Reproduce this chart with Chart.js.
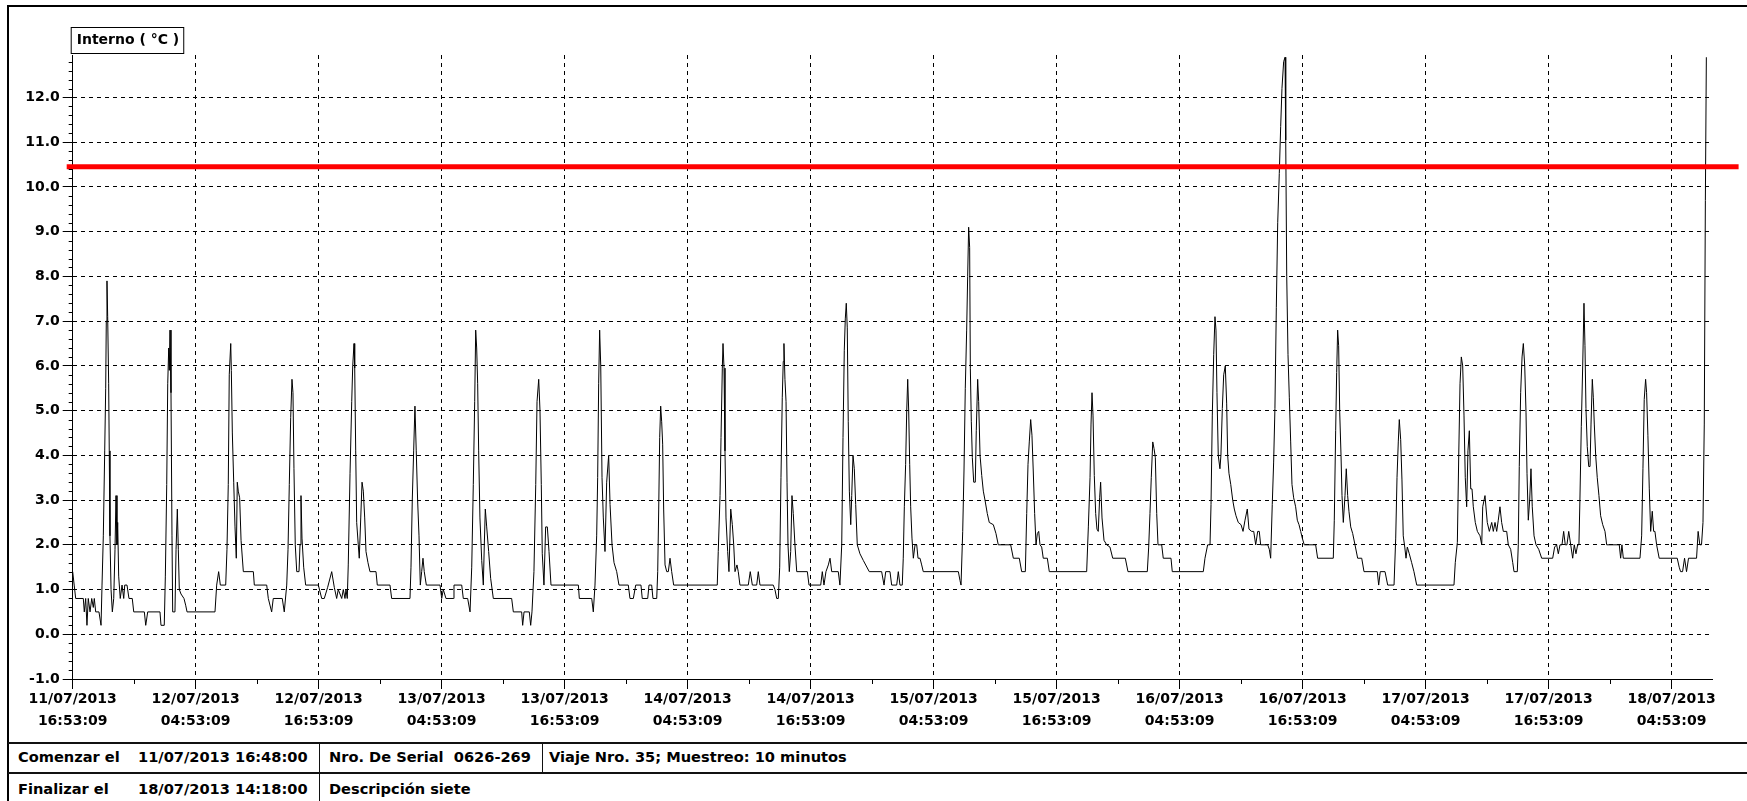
<!DOCTYPE html>
<html>
<head>
<meta charset="utf-8">
<script src="https://cdn.jsdelivr.net/npm/chart.js@4.4.0/dist/chart.umd.min.js"></script>
<style>
  body { margin: 0; width: 1747px; height: 801px; overflow: hidden; background: #fff; position: relative;
         font-family: 'DejaVu Sans', sans-serif; font-weight: bold; color: #000; }
  #frame { position: absolute; left: 7px; top: 5px; width: 1800px; height: 900px;
           border-left: 2px solid #000; border-top: 2px solid #000; }
  #tempChart { position: absolute; left: 0; top: 0; }
  .hline { position: absolute; left: 8px; width: 1739px; height: 2px; background: #111; }
  .vline { position: absolute; width: 1px; background: #111; }
  .cell { position: absolute; height: 20px; line-height: 20px; font-size: 14.6px; white-space: pre; }
</style>
</head>
<body>
<div id="frame"></div>
<canvas id="tempChart" width="1747" height="742"></canvas>

<div class="hline" style="top:742px"></div>
<div class="hline" style="top:772px"></div>
<div class="vline" style="left:319px; top:743px; height:60px"></div>
<div class="vline" style="left:542px; top:743px; height:30px"></div>

<div class="cell" style="left:18px; top:747px">Comenzar el</div>
<div class="cell" style="left:138px; top:747px">11/07/2013 16:48:00</div>
<div class="cell" style="left:329px; top:747px">Nro. De Serial  0626-269</div>
<div class="cell" style="left:549px; top:747px">Viaje Nro. 35; Muestreo: 10 minutos</div>
<div class="cell" style="left:18px; top:779px">Finalizar el</div>
<div class="cell" style="left:138px; top:779px">18/07/2013 14:18:00</div>
<div class="cell" style="left:329px; top:779px">Descripción siete</div>

<script>
// hours since 11/07/2013 16:48, temperature in °C
const seriesLabel = 'Interno ( °C )';
const spanHours = 165.5;
const threshold = 10.45;

const tickDates = ['11/07/2013', '12/07/2013', '12/07/2013', '13/07/2013', '13/07/2013', '14/07/2013', '14/07/2013',
                   '15/07/2013', '15/07/2013', '16/07/2013', '16/07/2013', '17/07/2013', '17/07/2013', '18/07/2013'];
const tickTimes = ['16:53:09', '04:53:09', '16:53:09', '04:53:09', '16:53:09', '04:53:09', '16:53:09',
                   '04:53:09', '16:53:09', '04:53:09', '16:53:09', '04:53:09', '16:53:09', '04:53:09'];
const tickStep = spanHours * 0.075;

const interno = [
  [0,1.4],[0.15,1.1],[0.3,0.8],[1.07,0.8],[1.17,0.5],[1.31,0.8],[1.44,0.2],[1.57,0.8],[1.75,0.5],[1.92,0.8],
  [2.08,0.6],[2.18,0.8],[2.32,0.5],[2.65,0.5],[2.86,0.2],[2.96,1.1],[3.09,2.2],[3.23,4.1],[3.33,5.5],[3.39,7.0],
  [3.46,7.9],[3.53,7.1],[3.63,5.6],[3.69,4.1],[3.76,2.2],[3.87,1.0],[4.00,0.5],[4.14,0.8],[4.27,1.9],[4.37,3.1],
  [4.47,2.0],[4.54,2.5],[4.64,1.3],[4.80,0.8],[4.98,1.1],[5.15,0.8],[5.25,1.1],[5.48,1.1],[5.68,0.8],[6.01,0.8],
  [6.16,0.5],[7.23,0.5],[7.37,0.2],[7.57,0.5],[8.81,0.5],[8.91,0.2],[9.24,0.2],[9.35,1.3],[9.49,3.35],[9.59,5.6],
  [9.69,6.4],[9.75,5.9],[9.82,6.8],[9.92,5.4],[10.02,2.2],[10.09,0.5],[10.32,0.5],[10.43,1.9],[10.56,2.8],[10.66,1.9],
  [10.76,1.0],[10.93,0.9],[11.23,0.8],[11.40,0.65],[11.54,0.5],[14.36,0.5],[14.53,1.1],[14.73,1.4],[14.90,1.1],[15.44,1.1],
  [15.57,1.9],[15.70,3.35],[15.80,5.8],[15.95,6.5],[16.01,5.9],[16.11,4.5],[16.25,3.4],[16.38,2.4],[16.51,1.7],[16.61,3.4],
  [16.71,3.2],[16.85,3.05],[16.99,2.1],[17.22,1.4],[18.23,1.4],[18.33,1.1],[19.58,1.1],[19.74,0.8],[20.08,0.5],[20.24,0.8],
  [21.15,0.8],[21.35,0.5],[21.60,1.1],[21.73,1.9],[21.86,3.35],[22.00,4.85],[22.13,5.7],[22.23,5.4],[22.33,3.7],[22.46,2.0],
  [22.61,1.4],[22.84,1.4],[22.94,2.0],[23.04,3.1],[23.14,2.15],[23.31,1.5],[23.51,1.1],[24.79,1.1],[25.13,0.8],[25.39,0.8],
  [25.73,1.05],[26.14,1.4],[26.40,1.05],[26.64,0.8],[26.80,1.0],[27.15,0.8],[27.31,1.0],[27.48,0.8],[27.58,1.0],[27.71,0.8],
  [27.81,1.55],[27.99,3.6],[28.16,5.2],[28.26,6.0],[28.39,6.5],[28.46,5.95],[28.56,4.1],[28.66,2.5],[28.82,2.0],[28.92,1.7],
  [29.07,2.6],[29.20,3.4],[29.33,3.2],[29.47,2.6],[29.60,1.85],[29.80,1.6],[30.00,1.4],[30.61,1.4],[30.74,1.1],[32.02,1.1],
  [32.19,0.8],[34.04,0.8],[34.14,1.5],[34.27,3.0],[34.41,4.1],[34.54,5.1],[34.67,4.1],[34.81,3.0],[34.95,2.2],[35.08,1.1],
  [35.22,1.4],[35.35,1.7],[35.48,1.4],[35.69,1.1],[37.07,1.1],[37.24,0.8],[37.40,1.0],[37.67,0.8],[38.41,0.8],[38.48,1.1],
  [39.26,1.1],[39.42,0.8],[39.86,0.8],[40.10,0.5],[40.27,1.5],[40.43,3.35],[40.57,5.2],[40.67,6.8],[40.77,6.4],[40.87,5.6],
  [40.97,4.1],[41.10,2.6],[41.28,1.65],[41.44,1.1],[41.54,2.0],[41.64,2.8],[41.78,2.4],[41.98,1.85],[42.18,1.25],[42.45,0.8],
  [44.30,0.8],[44.47,0.5],[45.31,0.5],[45.41,0.2],[45.55,0.5],[46.08,0.5],[46.22,0.2],[46.35,0.5],[46.55,1.4],[46.73,3.35],
  [46.86,5.2],[47.03,5.7],[47.16,5.0],[47.29,3.35],[47.39,1.8],[47.56,1.1],[47.73,2.4],[47.90,2.4],[48.07,1.85],[48.27,1.1],
  [51.03,1.1],[51.13,0.8],[52.38,0.8],[52.54,0.5],[52.71,1.1],[52.88,2.2],[52.98,3.5],[53.08,5.6],[53.18,6.8],[53.29,6.0],
  [53.42,3.5],[53.55,2.6],[53.72,1.85],[53.89,3.4],[54.09,4.0],[54.23,2.9],[54.43,2.0],[54.63,1.6],[54.90,1.4],[55.13,1.1],
  [56.07,1.1],[56.24,0.8],[56.58,0.8],[56.82,1.1],[57.35,1.1],[57.48,0.8],[58.03,0.8],[58.16,1.1],[58.43,1.1],[58.56,0.8],
  [58.94,0.8],[59.04,1.4],[59.14,2.8],[59.24,4.4],[59.34,5.1],[59.44,4.75],[59.54,4.25],[59.64,2.8],[59.78,1.55],[59.95,1.4],
  [60.11,1.4],[60.28,1.7],[60.45,1.4],[60.65,1.1],[65.05,1.1],[65.15,1.85],[65.33,3.1],[65.43,4.4],[65.56,5.95],[65.63,6.5],
  [65.73,5.95],[65.83,4.1],[65.93,2.6],[66.10,1.85],[66.23,1.4],[66.41,2.8],[66.57,2.45],[66.71,2.0],[66.84,1.4],[67.04,1.55],
  [67.17,1.4],[67.34,1.1],[68.18,1.1],[68.38,1.4],[68.59,1.1],[69.03,1.1],[69.19,1.4],[69.36,1.1],[70.70,1.1],[70.87,1.0],
  [71.05,0.8],[71.21,0.8],[71.35,1.5],[71.48,3.5],[71.61,5.3],[71.71,6.1],[71.78,6.5],[71.88,5.7],[71.99,5.2],[72.09,3.4],
  [72.19,2.0],[72.32,1.4],[72.46,1.85],[72.59,3.1],[72.72,2.7],[72.89,2.0],[73.07,1.4],[74.14,1.4],[74.31,1.1],[75.49,1.1],
  [75.65,1.4],[75.82,1.1],[76.02,1.4],[76.26,1.55],[76.43,1.7],[76.60,1.4],[77.26,1.4],[77.43,1.1],[77.61,2.0],[77.74,4.4],
  [77.87,6.35],[77.97,7.05],[78.07,7.4],[78.17,6.85],[78.27,4.75],[78.38,3.2],[78.52,2.45],[78.62,3.1],[78.75,4.0],[78.88,3.7],
  [79.02,2.9],[79.18,2.0],[79.45,1.8],[79.79,1.65],[80.39,1.4],[81.64,1.4],[81.88,1.1],[82.05,1.4],[82.48,1.4],[82.65,1.1],
  [83.16,1.1],[83.32,1.4],[83.49,1.1],[83.72,1.1],[83.82,1.7],[83.93,2.85],[84.06,3.8],[84.17,5.0],[84.27,5.7],[84.37,5.0],
  [84.47,3.8],[84.57,2.85],[84.70,2.15],[84.84,1.7],[85.01,2.0],[85.18,2.0],[85.31,1.7],[85.51,1.7],[85.68,1.55],[85.84,1.4],
  [89.38,1.4],[89.55,1.2],[89.65,1.1],[89.82,2.3],[89.95,3.65],[90.08,5.5],[90.22,6.8],[90.32,8.0],[90.42,9.1],[90.52,8.65],
  [90.59,5.95],[90.69,4.75],[90.79,3.95],[90.93,3.4],[91.09,3.4],[91.19,4.55],[91.33,5.7],[91.43,5.2],[91.57,4.0],[91.74,3.55],
  [91.90,3.2],[92.07,3.0],[92.30,2.7],[92.50,2.5],[92.91,2.45],[93.18,2.25],[93.41,2.0],[94.66,2.0],[94.93,1.7],[95.53,1.7],
  [95.77,1.4],[96.14,1.4],[96.28,2.7],[96.41,3.8],[96.54,4.3],[96.68,4.8],[96.81,4.45],[96.94,3.65],[97.08,2.7],[97.22,2.0],
  [97.35,2.25],[97.49,2.3],[97.62,2.0],[97.79,1.95],[97.95,1.7],[98.36,1.7],[98.56,1.4],[102.33,1.4],[102.50,2.4],[102.67,3.5],
  [102.77,4.7],[102.87,5.4],[102.97,4.9],[103.10,3.55],[103.24,2.7],[103.37,2.35],[103.50,2.3],[103.64,3.05],[103.74,3.4],[103.88,2.6],
  [104.08,2.1],[104.35,2.0],[104.68,1.95],[104.96,1.7],[106.23,1.7],[106.50,1.4],[108.45,1.4],[108.59,1.95],[108.72,2.7],[108.85,3.5],
  [109.00,4.3],[109.13,4.15],[109.26,3.95],[109.40,2.7],[109.53,2.0],[109.90,2.0],[110.06,1.7],[110.84,1.7],[110.97,1.4],[114.10,1.4],
  [114.27,1.7],[114.54,2.0],[114.78,2.0],[114.88,2.9],[115.01,4.9],[115.15,6.25],[115.28,7.1],[115.38,6.8],[115.48,5.4],[115.61,4.0],
  [115.78,3.7],[115.88,4.0],[116.02,5.05],[116.16,5.8],[116.32,6.0],[116.46,5.15],[116.56,4.0],[116.69,3.6],[116.87,3.35],[117.07,3.0],
  [117.23,2.8],[117.40,2.65],[117.63,2.5],[117.91,2.45],[118.11,2.3],[118.31,2.55],[118.54,2.8],[118.71,2.35],[118.98,2.3],[119.19,2.3],
  [119.39,2.0],[119.59,2.3],[119.75,2.3],[119.89,2.0],[120.60,2.0],[120.76,1.9],[120.90,1.7],[121.06,2.9],[121.20,3.85],[121.33,5.05],
  [121.47,7.3],[121.61,9.2],[121.77,10.3],[121.91,11.35],[122.04,12.2],[122.21,12.8],[122.35,12.9],[122.42,11.05],[122.52,8.0],[122.65,6.25],
  [122.78,5.3],[122.92,4.3],[123.05,3.35],[123.22,3.05],[123.42,2.85],[123.59,2.55],[123.76,2.45],[123.93,2.3],[124.09,2.15],[124.29,2.0],
  [125.44,2.0],[125.64,1.7],[127.22,1.7],[127.32,2.55],[127.46,4.55],[127.56,5.85],[127.66,6.8],[127.76,6.45],[127.87,4.95],[128.00,4.0],
  [128.10,3.1],[128.23,2.5],[128.40,3.1],[128.53,3.7],[128.67,3.1],[128.80,2.75],[128.98,2.4],[129.18,2.25],[129.41,2.0],[129.68,1.7],
  [130.09,1.7],[130.32,1.4],[131.66,1.4],[131.80,1.1],[131.96,1.4],[132.44,1.4],[132.71,1.1],[133.35,1.1],[133.52,2.15],[133.65,3.5],
  [133.78,4.3],[133.88,4.8],[134.02,4.35],[134.15,3.45],[134.28,2.2],[134.43,1.95],[134.56,1.7],[134.69,1.95],[134.89,1.8],[135.13,1.6],
  [135.36,1.4],[135.64,1.1],[139.40,1.1],[139.53,1.6],[139.74,2.05],[139.88,4.0],[140.01,5.6],[140.14,6.2],[140.28,6.0],[140.41,4.9],
  [140.54,3.5],[140.68,2.85],[140.81,4.1],[140.95,4.55],[141.09,3.25],[141.22,3.25],[141.35,2.85],[141.55,2.5],[141.76,2.3],[142.03,2.2],
  [142.20,2.0],[142.30,2.85],[142.53,3.1],[142.76,2.5],[142.97,2.3],[143.21,2.5],[143.37,2.3],[143.54,2.5],[143.71,2.3],[143.87,2.55],
  [144.04,2.85],[144.21,2.5],[144.38,2.3],[144.72,2.3],[144.88,2.0],[145.12,1.9],[145.33,1.6],[145.46,1.4],[145.79,1.4],[145.89,2.0],
  [145.99,3.75],[146.13,5.4],[146.27,6.2],[146.40,6.5],[146.54,6.0],[146.67,4.95],[146.77,3.6],[146.90,2.55],[147.04,3.0],[147.17,3.7],
  [147.30,2.85],[147.48,2.2],[147.68,2.0],[147.95,1.9],[148.25,1.7],[149.36,1.7],[149.56,1.95],[149.76,2.0],[149.93,1.8],[150.10,2.0],
  [150.30,2.0],[150.47,2.3],[150.63,2.0],[150.80,2.0],[150.98,2.3],[151.18,2.0],[151.38,1.7],[151.54,2.0],[151.71,1.8],[151.88,2.0],
  [152.01,2.0],[152.11,3.0],[152.25,4.65],[152.39,6.0],[152.52,7.4],[152.62,6.45],[152.72,5.05],[152.85,4.2],[153.00,3.75],[153.13,3.75],
  [153.23,4.7],[153.36,5.7],[153.46,5.3],[153.56,4.7],[153.70,4.0],[153.86,3.5],[154.03,3.1],[154.20,2.65],[154.41,2.45],[154.64,2.3],
  [154.81,2.0],[156.08,2.0],[156.22,1.7],[156.35,2.0],[156.49,1.7],[158.17,1.7],[158.34,2.2],[158.47,3.7],[158.60,5.25],[158.74,5.7],
  [158.84,5.4],[158.97,4.45],[159.11,3.25],[159.25,2.3],[159.41,2.75],[159.55,2.3],[159.68,2.3],[159.85,2.0],[160.11,1.7],[161.93,1.7],
  [162.13,1.5],[162.27,1.4],[162.47,1.4],[162.67,1.7],[162.87,1.4],[163.07,1.7],[163.88,1.7],[164.04,2.3],[164.21,2.0],[164.38,2.0],
  [164.53,2.5],[164.66,4.7],[164.77,9.7],[164.87,12.9]
];

Chart.defaults.font.family = "'DejaVu Sans', sans-serif";
Chart.defaults.font.size = 14;
Chart.defaults.font.weight = 'bold';
Chart.defaults.color = '#000';

// small ticks between the labelled ones
const minorTicks = {
    id: 'minorTicks',
    afterDraw(chart) {
        const { ctx, chartArea, scales: { x, y } } = chart;
        ctx.save();
        ctx.strokeStyle = '#000';
        ctx.lineWidth = 1;
        ctx.beginPath();
        for (let k = -4; k * 0.2 < y.max; k++) {
            if (k % 5 === 0) continue;
            const py = Math.round(y.getPixelForValue(k * 0.2)) + 0.5;
            ctx.moveTo(chartArea.left - 4, py);
            ctx.lineTo(chartArea.left, py);
        }
        for (let i = 0; i < tickDates.length - 1; i++) {
            const px = Math.round(x.getPixelForValue((i + 0.5) * tickStep)) + 0.5;
            ctx.moveTo(px, chartArea.bottom);
            ctx.lineTo(px, chartArea.bottom + 5);
        }
        ctx.stroke();
        ctx.restore();
    }
};

// red limit line, drawn a little past both ends of the plot
const thresholdLine = {
    id: 'thresholdLine',
    afterDatasetsDraw(chart) {
        const { ctx, chartArea, scales: { y } } = chart;
        const py = y.getPixelForValue(threshold);
        ctx.save();
        ctx.strokeStyle = '#ff0000';
        ctx.lineWidth = 5;
        ctx.beginPath();
        ctx.moveTo(chartArea.left - 6, py);
        ctx.lineTo(chartArea.right + 26, py);
        ctx.stroke();
        ctx.restore();
    }
};

// boxed series name above the y axis
const seriesBox = {
    id: 'seriesBox',
    afterDraw(chart) {
        const { ctx, chartArea } = chart;
        const label = chart.data.datasets[0].label;
        ctx.save();
        ctx.font = "bold 14px 'DejaVu Sans', sans-serif";
        const w = ctx.measureText(label).width;
        ctx.fillStyle = '#fff';
        ctx.fillRect(chartArea.left - 1.5, 27.5, w + 10, 26);
        ctx.strokeStyle = '#000';
        ctx.lineWidth = 1;
        ctx.strokeRect(chartArea.left - 1.5, 27.5, w + 10, 26);
        ctx.fillStyle = '#000';
        ctx.textBaseline = 'middle';
        ctx.fillText(label, chartArea.left + 4, 40.5);
        ctx.restore();
    }
};

const ctx = document.getElementById('tempChart').getContext('2d');
new Chart(ctx, {
    type: 'line',
    data: {
        datasets: [{
            label: seriesLabel,
            data: interno.map(([h, t]) => ({ x: h, y: t })),
            borderColor: '#000',
            borderWidth: 1,
            pointRadius: 0,
            tension: 0,
            fill: false
        }]
    },
    options: {
        responsive: false,
        animation: false,
        events: [],
        layout: { padding: { left: 0, top: 55, right: 34.4, bottom: 0 } },
        plugins: {
            legend: { display: false },
            tooltip: { enabled: false }
        },
        scales: {
            x: {
                type: 'linear',
                min: 0,
                max: spanHours,
                afterFit: scale => { scale.height = 63; },
                afterBuildTicks: scale => {
                    scale.ticks = tickDates.map((d, i) => ({ value: i * tickStep }));
                },
                ticks: {
                    autoSkip: false,
                    maxRotation: 0,
                    minRotation: 0,
                    padding: 0,
                    font: { size: 14, weight: 'bold', lineHeight: 1.55 },
                    callback: (value, index) => [tickDates[index], tickTimes[index]]
                },
                grid: { color: '#000', lineWidth: 1, tickLength: 10, tickColor: '#000' },
                border: { display: true, color: '#000', width: 1, dash: [4, 4] }
            },
            y: {
                min: -1,
                max: 12.95,
                afterFit: scale => { scale.width = 72.7; },
                afterBuildTicks: scale => {
                    const ticks = [];
                    for (let v = -1; v <= 12; v++) ticks.push({ value: v });
                    scale.ticks = ticks;
                },
                ticks: {
                    padding: 3,
                    font: { size: 14, weight: 'bold' },
                    callback: value => value.toFixed(1)
                },
                grid: { color: '#000', lineWidth: 1, tickLength: 10, tickColor: '#000' },
                border: { display: true, color: '#000', width: 1, dash: [4, 4] }
            }
        }
    },
    plugins: [minorTicks, thresholdLine, seriesBox]
});
</script>
</body>
</html>
